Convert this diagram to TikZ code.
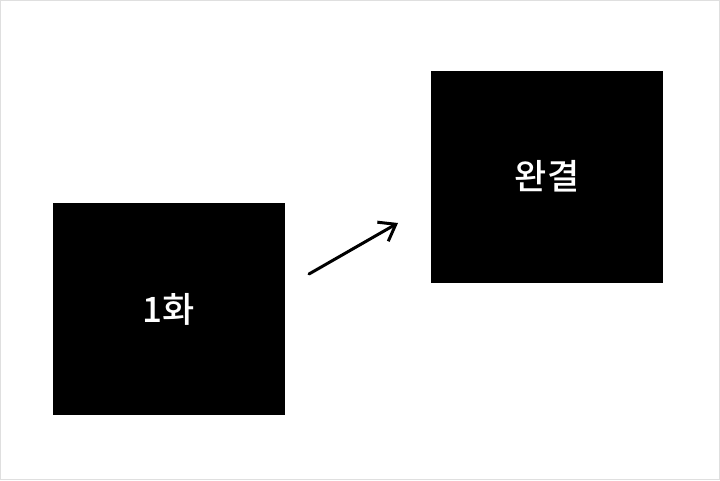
\documentclass[tikz,border=0pt]{standalone}
\usepackage{fontspec}
\newfontfamily\kor{Noto Sans CJK KR Medium}
\usetikzlibrary{arrows.meta}

\begin{document}
\begin{tikzpicture}[x=1pt, y=-1pt]
    % Definitions
    \def \boxwidth{232pt}
    \def \boxheight{212pt}
    \tikzset{
        panel/.style={fill=black, text=white, minimum width=\boxwidth, minimum height=\boxheight, inner sep=0pt, font=\kor\fontsize{35}{40}\selectfont},
        step arrow/.style={line width=3pt, line cap=round, -{Straight Barb[length=15pt, width=22pt, line width=3pt]}}
    }
    %%%
    %%% Frame
    %%%
    \useasboundingbox (0,0) rectangle (720,480);
    \draw[gray!25, line width=1pt] (0.5,0.5) rectangle (719.5,479.5);
    % Panels
    \node[panel] (first) at (169,309) {1화};
    \node[panel] (final) at (547,176.5) {완결};
    % Arrow between panels
    \coordinate (from) at (309,274);
    \coordinate (to) at (398,223);
    \draw[step arrow] (from) -- (to);
\end{tikzpicture}
\end{document}
